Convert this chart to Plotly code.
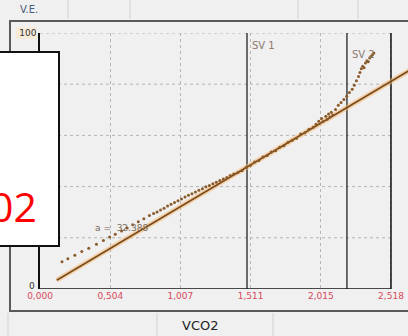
import plotly.graph_objects as go

# ---- data ----
x_ticks = [0.0, 0.504, 1.007, 1.511, 2.015, 2.518]
x_tick_text = ["0,000", "0,504", "1,007", "1,511", "2,015", "2,518"]
y_ticks = [100]
y_tick_text = ["100"]
y_zero_label = "0"
y_grid = [20, 40, 60, 80, 100]

vco2 = [0.158, 0.200, 0.250, 0.300, 0.350, 0.405, 0.455, 0.500, 0.540, 0.585,
        0.625, 0.665, 0.705, 0.745, 0.785,
        0.815, 0.840, 0.865, 0.890, 0.915, 0.940, 0.965, 0.990, 1.015, 1.040,
        1.065, 1.090, 1.115, 1.140, 1.165, 1.190, 1.215, 1.240, 1.265, 1.290,
        1.315, 1.340, 1.365, 1.390,
        1.42, 1.45, 1.48, 1.51, 1.54, 1.57, 1.60, 1.63, 1.66, 1.69, 1.72,
        1.75, 1.78, 1.81, 1.84, 1.87, 1.90, 1.93, 1.96, 1.98,
        2.00, 2.02, 2.03, 2.05, 2.06, 2.07, 2.08, 2.09, 2.10, 2.12,
        2.14, 2.16, 2.18, 2.20, 2.22,
        2.24, 2.255, 2.27, 2.285, 2.295, 2.305, 2.315, 2.325, 2.335, 2.345,
        2.355, 2.365, 2.375, 2.385, 2.395]
ve = [10.6, 11.8, 13.2, 14.6, 15.9, 17.5, 18.9, 20.3, 21.4, 22.7,
      23.8, 25.1, 26.3, 27.4, 28.7,
      29.5, 30.1, 30.9, 31.5, 32.4, 33.1, 33.8, 34.5, 35.2, 35.9,
      36.6, 37.2, 37.9, 38.6, 39.2, 39.9, 40.4, 41.1, 41.7, 42.4,
      43.0, 43.6, 44.3, 44.9,
      45.5, 46.2, 47.6, 48.3, 49.6, 50.2, 51.6, 52.1, 53.5, 54.0, 55.4,
      56.0, 57.3, 58.1, 58.9, 60.5, 61.0, 62.4, 63.2, 64.4,
      65.5, 66.6, 65.4, 67.5, 66.3, 68.4, 67.2, 69.0, 68.0, 70.1,
      71.8, 72.9, 74.0, 75.3, 76.8,
      78.0, 79.6, 81.3, 83.0, 84.6, 86.0, 87.0, 86.4, 88.3, 89.2,
      88.8, 90.2, 90.9, 91.5, 92.2]

slope = 32.388
intercept = -0.45
fit_x = [0.12, 2.72]
fit_y = [slope * v + intercept for v in fit_x]

sv_values = [1.485, 2.202]
sv_labels = ["SV 1", "SV 2"]
x_end = 2.518

fig = go.Figure()
fig.add_trace(go.Scatter(x=fit_x, y=fit_y, mode="lines",
                         line=dict(color="rgba(245,185,115,0.55)", width=5),
                         hoverinfo="skip", showlegend=False))
fig.add_trace(go.Scatter(x=fit_x, y=fit_y, mode="lines",
                         line=dict(color="#7a4a1c", width=1.6),
                         hoverinfo="skip", showlegend=False))
fig.add_trace(go.Scatter(x=vco2, y=ve, mode="markers",
                         marker=dict(color="#8a5a2a", size=3),
                         showlegend=False))

shapes = []
for g in y_grid:
    shapes.append(dict(type="line", xref="x", yref="y", x0=0, x1=x_end, y0=g, y1=g,
                       line=dict(color="#b4b4b4", width=1, dash="dot"), layer="between"))
for s in sv_values:
    shapes.append(dict(type="line", xref="x", yref="y", x0=s, x1=s, y0=0, y1=100,
                       line=dict(color="#111111", width=1.2), layer="between"))
shapes.append(dict(type="line", xref="x", yref="y", x0=x_end, x1=x_end, y0=0, y1=100,
                   line=dict(color="#111111", width=1.5), layer="between"))
shapes.append(dict(type="line", xref="x", yref="y", x0=0, x1=x_end, y0=0, y1=0,
                   line=dict(color="#111111", width=1.5), layer="above"))


def px(xp):
    return (xp - 40) / 368.0


def py(yp):
    return (289 - yp) / 256.0


shapes.append(dict(type="rect", xref="paper", yref="paper",
                   x0=px(10), x1=px(412), y0=py(311), y1=py(21),
                   line=dict(color="#5a5a5a", width=2), layer="below"))
for sx in [68, 130, 298, 358]:
    shapes.append(dict(type="line", xref="paper", yref="paper",
                       x0=px(sx), x1=px(sx), y0=py(0), y1=py(19),
                       line=dict(color="#d2d2d2", width=1)))
for sx in [8, 157, 273]:
    shapes.append(dict(type="line", xref="paper", yref="paper",
                       x0=px(sx), x1=px(sx), y0=py(313), y1=py(336),
                       line=dict(color="#d2d2d2", width=1)))
shapes.append(dict(type="rect", xref="paper", yref="paper",
                   x0=px(16), x1=px(37), y0=py(39), y1=py(27),
                   fillcolor="#f6ead8", line=dict(width=0), layer="below"))
shapes.append(dict(type="rect", xref="paper", yref="paper",
                   x0=px(-3), x1=px(59), y0=py(246), y1=py(52),
                   fillcolor="white", line=dict(color="#111111", width=2), layer="above"))

annotations = []
for s, lab, shift in zip(sv_values, sv_labels, [-5, -14]):
    annotations.append(dict(x=s, y=100, xref="x", yref="y", text=lab, showarrow=False,
                            xanchor="left", yanchor="top", xshift=3, yshift=shift,
                            font=dict(family="DejaVu Sans", size=10, color="#8a7a70")))
annotations.append(dict(x=0.38, y=23.8, xref="x", yref="y", text="a =  32.388",
                        showarrow=False, xanchor="left", yanchor="middle",
                        font=dict(family="DejaVu Sans", size=9, color="#7a6a5a")))
annotations.append(dict(x=0, y=0, xref="x", yref="y", text=y_zero_label,
                        showarrow=False, xanchor="right", yanchor="bottom", xshift=-3,
                        yshift=-4,
                        font=dict(family="DejaVu Sans", size=9, color="#333333")))
annotations.append(dict(x=px(18), y=py(9), xref="paper", yref="paper", text="V.E.",
                        showarrow=False, xanchor="left", yanchor="middle",
                        font=dict(family="DejaVu Sans", size=10, color="#4a5a78")))
annotations.append(dict(x=px(200), y=py(325), xref="paper", yref="paper", text="VCO2",
                        showarrow=False, xanchor="center", yanchor="middle",
                        font=dict(family="DejaVu Sans", size=13, color="#222222")))
annotations.append(dict(x=px(38), y=py(206), xref="paper", yref="paper", text="02",
                        showarrow=False, xanchor="right", yanchor="middle", borderpad=0,
                        font=dict(family="Open Sans", size=41, color="#ff0000")))

fig.update_layout(
    width=408, height=336,
    margin=dict(l=40, r=0, t=33, b=47),
    paper_bgcolor="#f0f0f0", plot_bgcolor="#f0f0f0",
    shapes=shapes, annotations=annotations,
    xaxis=dict(range=[0, 2.64], tickvals=x_ticks, ticktext=x_tick_text,
               showgrid=True, gridcolor="#b4b4b4", griddash="dot", gridwidth=1,
               zeroline=False, showline=False, ticks="",
               tickfont=dict(family="DejaVu Sans", size=9, color="#d8485a")),
    yaxis=dict(range=[0, 100], tickvals=y_ticks, ticktext=y_tick_text,
               showgrid=False, zeroline=False, showline=True, linecolor="#111111",
               linewidth=1.5, ticks="",
               tickfont=dict(family="DejaVu Sans", size=9, color="#333333")),
)

fig.write_html("out.html")
